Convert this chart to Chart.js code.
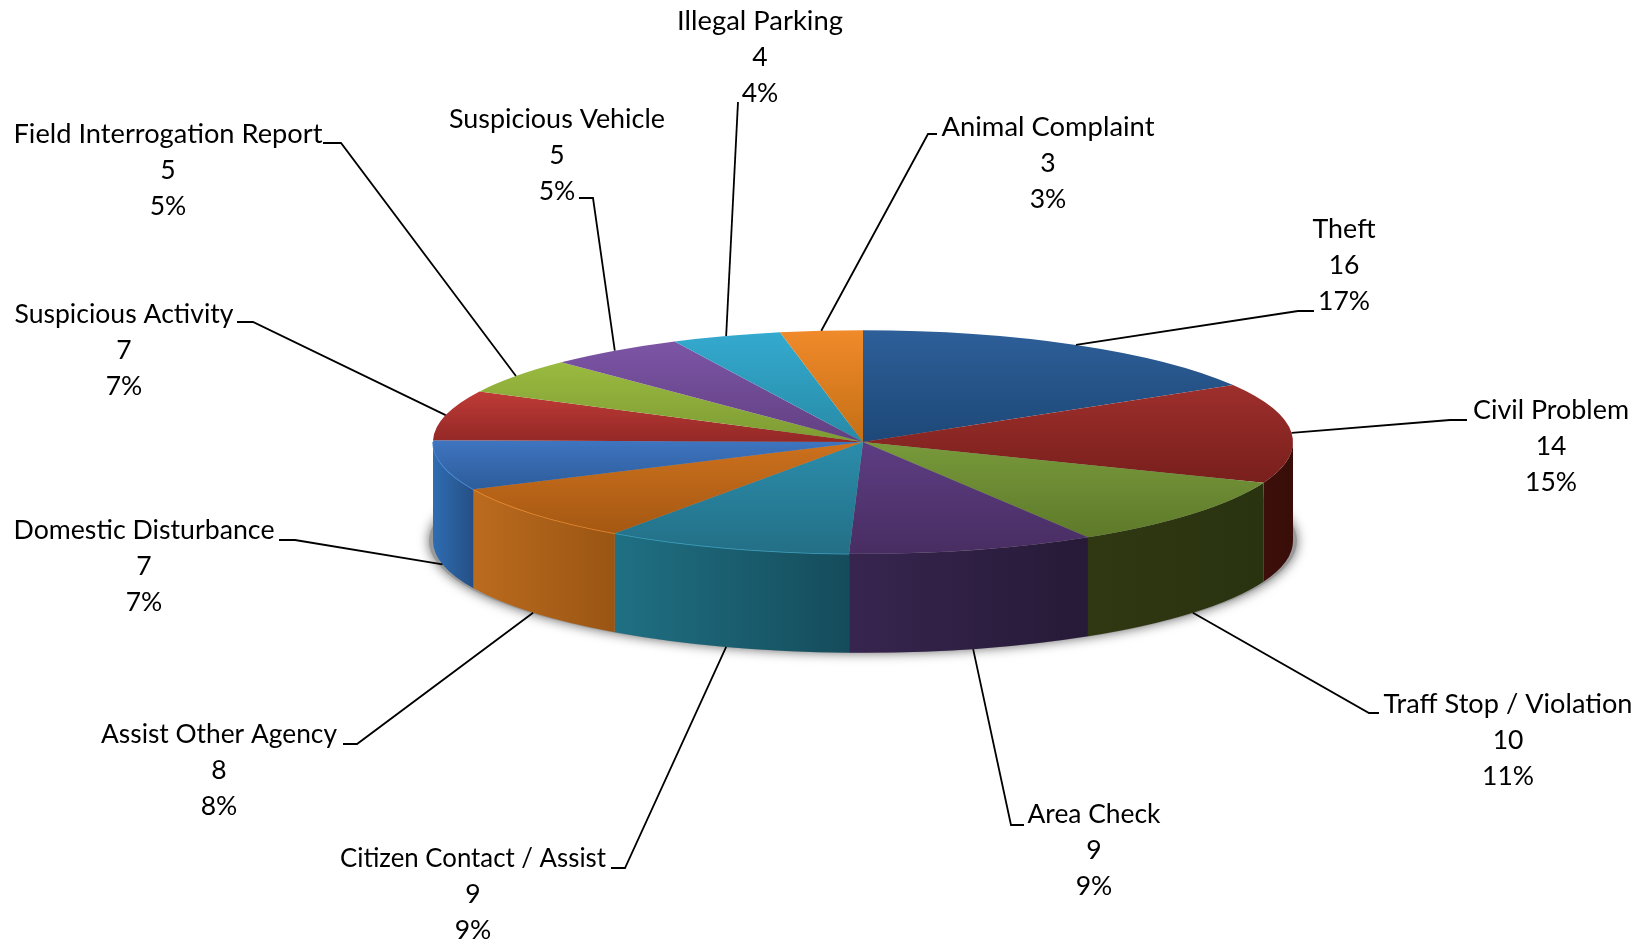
<!DOCTYPE html>
<html>
<head>
<meta charset="utf-8">
<title>Calls for service</title>
<script src="https://cdn.jsdelivr.net/npm/chart.js@4/dist/chart.umd.min.js"></script>
<style>
    html, body { margin: 0; padding: 0; background: #fff; }
    canvas { display: block; }
</style>
</head>
<body>
<canvas id="pie_chart" width="1645" height="946"></canvas>
<script>
const categories = ['Theft', 'Civil Problem', 'Traff Stop / Violation', 'Area Check',
    'Citizen Contact / Assist', 'Assist Other Agency', 'Domestic Disturbance', 'Suspicious Activity',
    'Field Interrogation Report', 'Suspicious Vehicle', 'Illegal Parking', 'Animal Complaint'];
const counts   = [16, 14, 10, 9, 9, 8, 7, 7, 5, 5, 4, 3];
const percents = ['17%', '15%', '11%', '9%', '9%', '8%', '7%', '7%', '5%', '5%', '4%', '3%'];

// face colours, top of the slice to bottom of the slice
const face_light = ['#2e5f99', '#9e2f2c', '#78993b', '#5e3d83', '#2b8dab', '#cc711e', '#3f75c0', '#c03b37', '#9aba40', '#7c55a6', '#34aacf', '#f08a2a'];
const face_dark  = ['#1d4878', '#781f1c', '#5e7a2a', '#482d62', '#236f86', '#a55812', '#2c5c9a', '#922826', '#7d9b33', '#624082', '#278aa6', '#c46f16'];
// side wall colours, left to right
const wall_left  = ['#1d4878', '#3e0f0a', '#2f3811', '#37254f', '#1f7083', '#bb6b1e', '#2f6db2', '#c03b37', '#9aba40', '#7c55a6', '#34aacf', '#f08a2a'];
const wall_right = ['#1d4878', '#380d08', '#2a3310', '#261a37', '#154c5b', '#9a5513', '#254f85', '#922826', '#7d9b33', '#624082', '#278aa6', '#c46f16'];
const rim_colors = [null, null, null, null, '#3f9fbd', '#e58a32', '#4d8ad6', null, null, null, null, null];

// label centre x, first line centre y and first line width, then leader elbow and stub end
const label_x = [1344, 1551, 1508, 1094, 473, 219, 144, 124, 168, 557, 760, 1048];
const label_y = [229, 410, 704, 814, 858, 734, 530, 314, 134, 119, 21, 127];
const label_w = [63, 156, 249, 133, 266, 236, 261, 219, 309, 216, 166, 213];
const elbow_x = [1298, 1450, 1369, 1011, 625, 357, 295, 253, 341, 593, 738, 928];
const elbow_y = [311, 420, 713, 825, 868, 744, 540, 322, 143, 198, 102, 134];
const stub_x  = [1314, 1467, 1379, 1024, 611, 343, 279, 237, 323, 579, 738, 937];

const tilt  = 0.26;   // flattening of the disc
const depth = 99;     // wall height
const line_height = 36;

function visible_span(arc) {
    return [Math.max(arc.startAngle, 0), Math.min(arc.endAngle, Math.PI)];
}

function draw_shadow(ctx, arc) {
    ctx.save();
    ctx.shadowColor = 'rgba(0,0,0,0.6)';
    ctx.shadowBlur = 12;
    ctx.fillStyle = '#9a9a9a';
    ctx.beginPath();
    ctx.ellipse(arc.x, arc.y + depth, arc.outerRadius + 4, arc.outerRadius * tilt, 0, 0, Math.PI * 2);
    ctx.fill();
    ctx.restore();
}

function draw_wall(ctx, arc, i) {
    const [from, to] = visible_span(arc);
    if(to <= from) {
        return;
    }
    const R = arc.outerRadius;
    const ry = R * tilt;
    const x0 = arc.x + R * Math.cos(from);
    const x1 = arc.x + R * Math.cos(to);
    // walls run from the right side round to the left, colours are stored left to right
    const grad = ctx.createLinearGradient(Math.min(x0, x1), 0, Math.max(x0, x1), 0);
    grad.addColorStop(0, wall_left[i]);
    grad.addColorStop(1, wall_right[i]);
    ctx.fillStyle = grad;
    ctx.beginPath();
    ctx.ellipse(arc.x, arc.y, R, ry, 0, from, to);
    ctx.ellipse(arc.x, arc.y + depth, R, ry, 0, to, from, true);
    ctx.closePath();
    ctx.fill();
    if(rim_colors[i]) {
        ctx.strokeStyle = rim_colors[i];
        ctx.lineWidth = 1.5;
        ctx.beginPath();
        ctx.ellipse(arc.x, arc.y, R, ry, 0, from, to);
        ctx.stroke();
    }
}

function set_face_gradient(ctx, arc, i) {
    const R = arc.outerRadius;
    const ys = [arc.y, arc.y + R * Math.sin(arc.startAngle), arc.y + R * Math.sin(arc.endAngle)];
    if(arc.startAngle <= Math.PI / 2 && arc.endAngle >= Math.PI / 2) {
        ys.push(arc.y + R);
    }
    if(arc.startAngle <= -Math.PI / 2) {
        ys.push(arc.y - R);
    }
    const grad = ctx.createLinearGradient(0, Math.min(...ys), 0, Math.max(...ys));
    grad.addColorStop(0, face_light[i]);
    grad.addColorStop(1, face_dark[i]);
    arc.options.backgroundColor = grad;
}

function draw_labels(ctx, arcs) {
    ctx.save();
    ctx.strokeStyle = '#000';
    ctx.lineWidth = 1.8;
    ctx.fillStyle = '#000';
    ctx.textAlign = 'center';
    ctx.textBaseline = 'middle';
    arcs.forEach((arc, i) => {
        const mid = (arc.startAngle + arc.endAngle) / 2;
        const rim_x = arc.x + arc.outerRadius * Math.cos(mid);
        let rim_y = arc.y + arc.outerRadius * tilt * Math.sin(mid);
        if(Math.sin(mid) > 0) {
            rim_y += depth;
        }
        ctx.beginPath();
        ctx.moveTo(rim_x, rim_y);
        ctx.lineTo(elbow_x[i], elbow_y[i]);
        ctx.lineTo(stub_x[i], elbow_y[i]);
        ctx.stroke();

        // Lato runs a little differently from the original font, fit each name to its width
        ctx.font = '27.5px Lato';
        ctx.save();
        ctx.translate(label_x[i], label_y[i]);
        ctx.scale(label_w[i] / ctx.measureText(categories[i]).width, 1);
        ctx.fillText(categories[i], 0, 0);
        ctx.restore();

        ctx.font = '26.5px Lato';
        ctx.fillText(String(counts[i]), label_x[i], label_y[i] + line_height);
        ctx.fillText(percents[i], label_x[i], label_y[i] + line_height * 2);
    });
    ctx.restore();
}

const disc_plugin = {
    id: 'disc',
    beforeDatasetsDraw(chart) {
        const ctx = chart.ctx;
        const arcs = chart.getDatasetMeta(0).data;
        draw_shadow(ctx, arcs[0]);
        arcs.forEach((arc, i) => draw_wall(ctx, arc, i));
        arcs.forEach((arc, i) => set_face_gradient(ctx, arc, i));
        // flatten the library's own arcs onto the disc
        ctx.save();
        ctx.translate(0, arcs[0].y);
        ctx.scale(1, tilt);
        ctx.translate(0, -arcs[0].y);
    },
    afterDatasetsDraw(chart) {
        chart.ctx.restore();
        draw_labels(chart.ctx, chart.getDatasetMeta(0).data);
    }
};

new Chart(document.getElementById('pie_chart'), {
    type: 'pie',
    data: {
        labels: categories,
        datasets: [{
            data: counts,
            backgroundColor: face_light,
            borderWidth: 0
        }]
    },
    options: {
        responsive: false,
        animation: false,
        layout: { padding: { left: 433, right: 352, top: 12, bottom: 74 } },
        plugins: {
            legend: { display: false },
            tooltip: { enabled: false }
        }
    },
    plugins: [disc_plugin]
});
</script>
</body>
</html>
